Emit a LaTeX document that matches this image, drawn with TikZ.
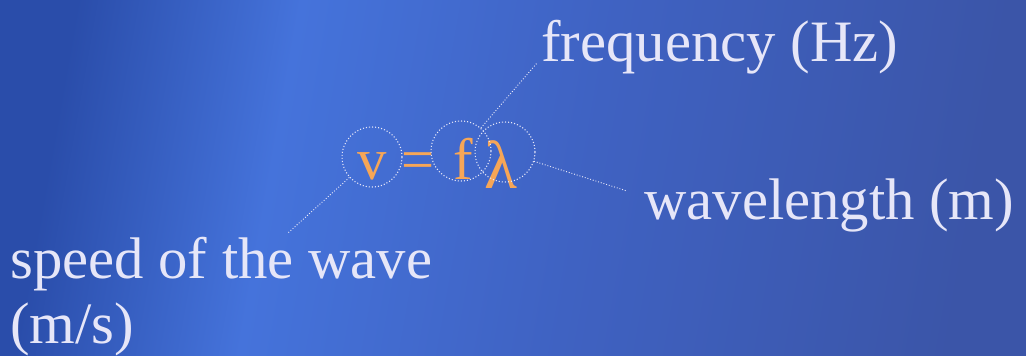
\documentclass[tikz,border=0pt]{standalone}
\usepackage{fontspec}
\setmainfont{Liberation Serif}
\usepackage{xcolor}
\usepackage{tikz}
\usetikzlibrary{positioning}
\definecolor{cOrange}{HTML}{F6A657}
\definecolor{cLabel}{HTML}{E6E6F8}
\definecolor{cBgDark}{HTML}{2A4DAA}
\definecolor{cBgGlow}{HTML}{4573DB}
\definecolor{cBgMid}{HTML}{3F62C2}
\definecolor{cBgRight}{HTML}{3B55A8}
\pgfdeclarehorizontalshading{bgwave}{100bp}{color(0bp)=(cBgDark); color(25bp)=(cBgDark);
  color(37bp)=(cBgGlow); color(54bp)=(cBgMid); color(75bp)=(cBgRight); color(100bp)=(cBgRight)}

\begin{document}
\begin{tikzpicture}[
  x=0.75pt,y=0.75pt,font=\fontsize{44}{48.75}\selectfont,
  ring/.style={circle,draw=cLabel!90,line width=0.8pt,dash pattern=on 0.8pt off 1.5pt,
               minimum size=45pt,inner sep=0pt},
  sym/.style={text=cOrange,inner sep=0pt,anchor=base},
  lbl/.style={text=cLabel,inner sep=0pt,anchor=base west,align=left},
  lead/.style={draw=cLabel!90,line width=0.7pt,dash pattern=on 0.7pt off 1.4pt}
]
% ---- fundo
\useasboundingbox (0,0) rectangle (1026,-356);
\shade[shading=bgwave,shading angle=-10] (0,0) rectangle (1026,-356);

% ---- formula
\node[sym] (sv) at (372,-180) {v};
\node[sym] (se) at (418,-180) {=};
\node[sym] (sf) at (463,-180) {f};
\node[sym,font=\fontsize{51}{51}\selectfont] (sl) at (501,-189) {λ};

% ---- aneis
\node[ring] (rv) at (372,-157) {};
\node[ring] (rf) at (461,-151) {};
\node[ring] (rl) at (505,-152) {};

% ---- rotulos
\node[lbl] (tf) at (541,-62)  {frequency (Hz)};
\node[lbl] (tl) at (644,-220) {wavelength (m)};
\node[lbl] (tv) at (10,-344)  {speed of the wave\\(m/s)};

% ---- linhas
\coordinate (pf) at (537,-63);
\coordinate (pl) at (627,-191);
\coordinate (pv) at (288,-233);
\draw[lead] (rf) -- (pf);
\draw[lead] (rl) -- (pl);
\draw[lead] (rv) -- (pv);
\end{tikzpicture}
\end{document}
